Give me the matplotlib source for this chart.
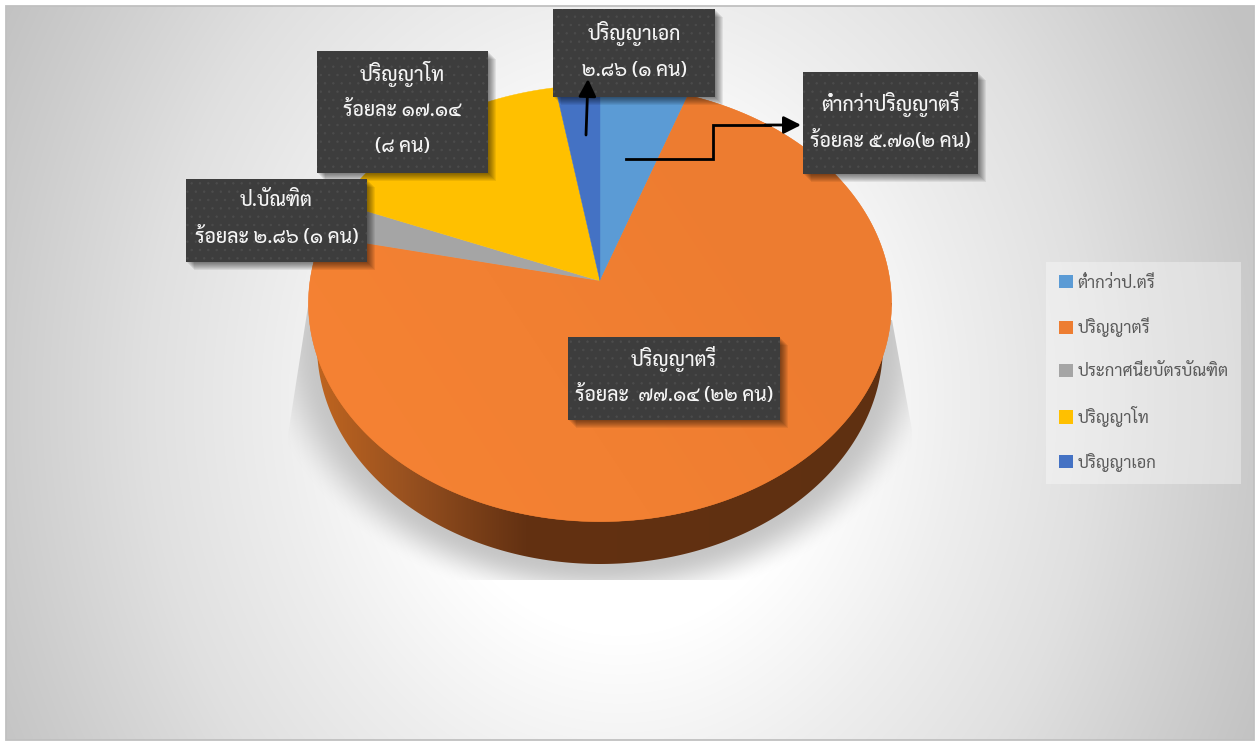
from matplotlib import pyplot as plt
from matplotlib.patches import Polygon, Rectangle, Patch
from matplotlib.colors import to_rgb
import numpy as np

plt.rcParams['font.family'] = ['Sarabun', 'Loma', 'DejaVu Sans']
plt.rcParams['hatch.linewidth'] = 0.5

# slices, clockwise from 12 o'clock
legend_labels = ['ต่ำกว่าป.ตรี', 'ปริญญาตรี', 'ประกาศนียบัตรบัณฑิต', 'ปริญญาโท', 'ปริญญาเอก']
percent = [5.71, 77.14, 2.86, 17.14, 2.86]
colors = ['#5b9bd5', '#ed7d31', '#a5a5a5', '#ffc000', '#4472c4']

# text in the dark boxes
box_lines = [
    ['ปริญญาเอก', '๒.๘๖ (๑ คน)'],
    ['ปริญญาโท', 'ร้อยละ ๑๗.๑๔', '(๘ คน)'],
    ['ป.บัณฑิต', 'ร้อยละ ๒.๘๖ (๑ คน)'],
    ['ต่ำกว่าปริญญาตรี', 'ร้อยละ ๕.๗๑(๒ คน)'],
    ['ปริญญาตรี', 'ร้อยละ  ๗๗.๑๔ (๒๒ คน)'],
]
# x0, x1, y0, y1 in picture pixels
box_rects = [
    (553, 715, 9, 97),
    (317, 488, 51, 173),
    (186, 367, 179, 262),
    (803, 978, 72, 174),
    (568, 780, 337, 420),
]
box_text_y = [
    [33, 71],
    [74, 110, 147],
    [200, 237],
    [104, 141],
    [359, 395],
]

W, H = 1255, 742

# perspective of the pie plane
apex_x, apex_y = 600.0, 281.0
scale_x, scale_y, tilt = 290.0, 216.0, 0.1024

# lower rim
rim_cy, rim_a, rim_b = 345.0, 283.0, 219.0

# ----------------------------------------------------------------------------------------------------
def project(theta):

    u, v = np.sin(theta), np.cos(theta)
    den = 1 + tilt * v

    return apex_x + scale_x * u / den, apex_y - scale_y * v / den

# ----------------------------------------------------------------------------------------------------
def ramp(t, stops, cols):

    rgb = np.array([to_rgb(c) for c in cols])

    return np.dstack([np.interp(t, stops, rgb[:, i]) for i in range(3)])

# ----------------------------------------------------------------------------------------------------
def draw_background(ax):

    yy, xx = np.mgrid[0:H, 0:W]
    dist = np.sqrt((xx - 620.0)**2 + (0.85 * (yy - 400.0))**2)
    img = ramp(dist, [0, 200, 340, 475, 615, 700], ['#ffffff', '#ffffff', '#eeeeee', '#e0e0e0', '#cdcdcd', '#c2c2c2'])
    im = ax.imshow(img, extent = (0, W, H, 0), aspect = 'auto', zorder = 0)
    im.set_clip_path(Rectangle((6, 6), 1248, 734, transform = ax.transData))
    ax.add_patch(Rectangle((6, 6), 1248, 734, facecolor = 'none', edgecolor = '#c0c0c0', lw = 1.3, zorder = 1))

# ----------------------------------------------------------------------------------------------------
def draw_shadow(ax):

    yy, xx = np.mgrid[0:H, 0:W]
    rho = np.sqrt(((xx - apex_x) / rim_a)**2 + ((yy - rim_cy) / rim_b)**2)
    alpha = np.clip((1.2 - rho) / 0.2, 0, 1)
    alpha = alpha * alpha * (3 - 2 * alpha)

    img = np.zeros((H, W, 4))
    img[..., :3] = 0.78
    img[..., 3] = alpha
    im = ax.imshow(img, extent = (0, W, H, 0), aspect = 'auto', zorder = 2)
    outline = Polygon([(309, 300), (288, 435), (288, 580), (912, 580), (912, 430), (892, 320)], closed = True, transform = ax.transData)
    im.set_clip_path(outline)

# ----------------------------------------------------------------------------------------------------
def draw_side(ax):

    t = np.linspace(np.pi, 0, 300)
    rim_x = apex_x + rim_a * np.cos(t)
    rim_y = rim_cy + rim_b * np.sin(t)
    pts = np.column_stack([np.r_[309, rim_x, 892], np.r_[303, rim_y, 303]])

    xx = np.arange(W)[None, :]
    img = ramp(xx, [310, 402, 525, 892], ['#c2661f', '#9a5220', '#633112', '#5f3011'])
    im = ax.imshow(img, extent = (0, W, H, 0), aspect = 'auto', zorder = 3)
    im.set_clip_path(Polygon(pts, closed = True, transform = ax.transData))

# ----------------------------------------------------------------------------------------------------
def draw_slices(ax):

    edges = np.radians(np.r_[0, np.cumsum(percent)] * 360 / np.sum(percent))

    for i, color in enumerate(colors):
        theta = np.linspace(edges[i], edges[i + 1], 300)
        x, y = project(theta)
        pts = np.column_stack([np.r_[apex_x, x], np.r_[apex_y, y]])
        wedge = Polygon(pts, closed = True, facecolor = color, edgecolor = color, lw = 0.3, zorder = 4)
        ax.add_patch(wedge)

        # the big slice is a little lighter towards the lower left
        if i == 1:
            yy, xx = np.mgrid[0:H, 0:W]
            img = ramp((xx - 300) / 600.0 - (yy - 530) / 900.0, [0, 0.6, 1.1], ['#f68334', '#f28032', '#ed7c30'])
            im = ax.imshow(img, extent = (0, W, H, 0), aspect = 'auto', zorder = 4.1)
            im.set_clip_path(Polygon(pts, closed = True, transform = ax.transData))

# ----------------------------------------------------------------------------------------------------
def draw_boxes(ax):

    for rect, lines, ys in zip(box_rects, box_lines, box_text_y):
        x0, x1, y0, y1 = rect

        for off in range(1, 9):
            ax.add_patch(Rectangle((x0 + off, y0 + off), x1 - x0, y1 - y0, facecolor = 'black', edgecolor = 'none', alpha = 0.07, zorder = 6))

        ax.add_patch(Rectangle((x0, y0), x1 - x0, y1 - y0, facecolor = '#3d3d3d', edgecolor = '#4c4c4c', hatch = '..', lw = 0, zorder = 7))

        for line, y in zip(lines, ys):
            ax.text((x0 + x1) / 2.0, y, line, color = '#f5f5f5', fontsize = 14, fontweight = 'medium', ha = 'center', va = 'center', zorder = 8)

# ----------------------------------------------------------------------------------------------------
def draw_arrows(ax):

    style = dict(arrowstyle = '-|>,head_length=0.95,head_width=0.48', color = 'black', lw = 2.0, shrinkA = 0, shrinkB = 0, mutation_scale = 11)

    ax.annotate('', xy = (588, 79), xytext = (586, 135), arrowprops = style, zorder = 9)
    ax.plot([626, 713, 713, 770], [159, 159, 125, 125], color = 'black', lw = 2.0, zorder = 9, solid_joinstyle = 'miter')
    ax.annotate('', xy = (801, 125), xytext = (765, 125), arrowprops = style, zorder = 9)

# ----------------------------------------------------------------------------------------------------
def draw_legend(ax):

    handles = [Patch(facecolor = c, edgecolor = 'none', label = l) for c, l in zip(colors, legend_labels)]
    leg = ax.legend(handles = handles, loc = 'upper left', bbox_to_anchor = (1046, 262), bbox_transform = ax.transData,
                    fontsize = 12, labelcolor = '#595959', frameon = True, fancybox = False, framealpha = 0.35,
                    facecolor = 'white', edgecolor = 'none', borderaxespad = 0, borderpad = 0.75, labelspacing = 1.55,
                    handlelength = 0.84, handleheight = 0.84, handletextpad = 0.3)
    leg.set_zorder(5)

# ----------------------------------------------------------------------------------------------------
if __name__ == '__main__':

    fig = plt.figure(figsize = (W / 100.0, H / 100.0), dpi = 100)
    ax = fig.add_axes([0, 0, 1, 1])

    draw_background(ax)
    draw_shadow(ax)
    draw_side(ax)
    draw_slices(ax)
    draw_boxes(ax)
    draw_arrows(ax)
    draw_legend(ax)

    ax.set_xlim(0, W)
    ax.set_ylim(H, 0)
    ax.axis('off')

    fig.savefig('out.png', dpi = 100)
